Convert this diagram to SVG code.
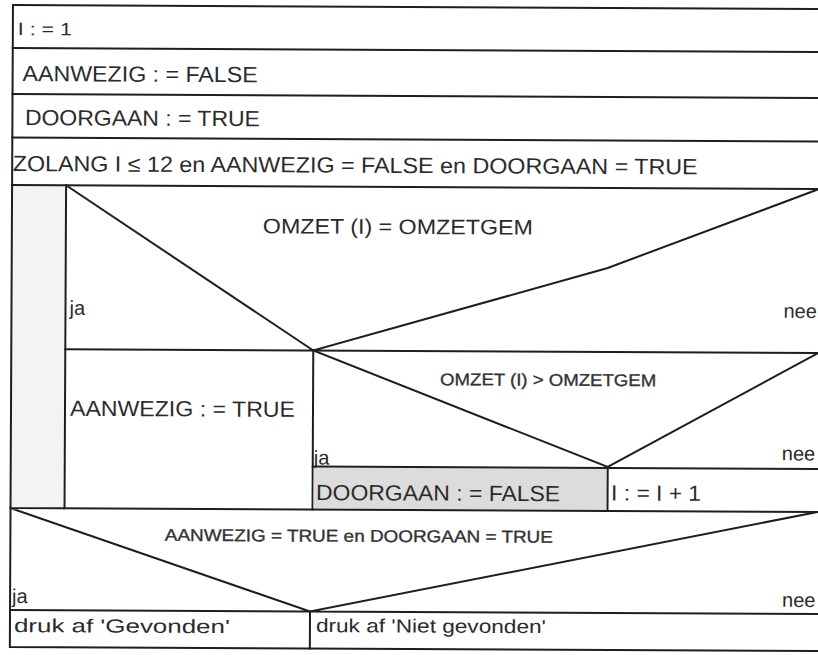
<svg xmlns="http://www.w3.org/2000/svg" width="818" height="655" viewBox="0 0 818 655">
  <style>
    .ln { stroke: #1e1e1e; stroke-width: 2; fill: none; stroke-linecap: square; }
    .t { font-family: "Liberation Sans", Arial, sans-serif; fill: #2b2b2b; }
    .big { font-size: 22px; }
    .mid { font-size: 20px; }
    .small { font-size: 17px; fill: #333333; stroke: #333333; stroke-width: 0.35; }
    .shade { fill: #dcdcdc; }
    .haze { fill: #f3f3f3; }
  </style>
  <rect width="818" height="655" fill="#ffffff"/>
  <!-- whole chart is drawn slightly tilted, like a page on a scanner -->
  <g transform="rotate(0.28)">
    <!-- faint grey strip on the left of the loop body -->
    <rect class="haze" x="14" y="186" width="52" height="321"/>

    <g id="assign-i">
      <path class="ln" d="M13,5 H830 M13,48 H830"/>
      <text class="t" x="18" y="35" font-size="18" textLength="54" lengthAdjust="spacingAndGlyphs">I : = 1</text>
    </g>

    <g id="assign-aanwezig">
      <path class="ln" d="M13,94 H830"/>
      <text class="t big" x="23" y="81" textLength="235" lengthAdjust="spacingAndGlyphs">AANWEZIG : = FALSE</text>
    </g>

    <g id="assign-doorgaan">
      <path class="ln" d="M13,137.5 H830"/>
      <text class="t big" x="25.5" y="125" textLength="235" lengthAdjust="spacingAndGlyphs">DOORGAAN : = TRUE</text>
    </g>

    <g id="loop-zolang">
      <path class="ln" d="M13,185 H830 M67,185 V508"/>
      <text class="t big" x="13.5" y="171" textLength="685" lengthAdjust="spacingAndGlyphs">ZOLANG I ≤ 12 en AANWEZIG = FALSE en DOORGAAN = TRUE</text>
    </g>

    <g id="if-omzet-gelijk">
      <path class="ln" d="M67,185 L315,349 L609,265 L820,185 M67,349 H830"/>
      <text class="t" x="264" y="232" font-size="21" textLength="270" lengthAdjust="spacingAndGlyphs">OMZET (I) = OMZETGEM</text>
      <text class="t mid" x="71" y="314.5">ja</text>
      <text class="t mid" x="785" y="314">nee</text>
    </g>

    <g id="set-aanwezig-true">
      <path class="ln" d="M315,349 V508"/>
      <text class="t big" x="72" y="415.5" textLength="225" lengthAdjust="spacingAndGlyphs">AANWEZIG : = TRUE</text>
    </g>

    <g id="if-omzet-groter">
      <path class="ln" d="M315,349 L610,464 L820,349"/>
      <text class="t small" x="442" y="383" textLength="216" lengthAdjust="spacingAndGlyphs">OMZET (I) &gt; OMZETGEM</text>
      <text class="t mid" x="316" y="463">ja</text>
      <text class="t mid" x="784" y="456.5">nee</text>
    </g>

    <g id="set-doorgaan-false">
      <rect class="shade" x="316" y="466" width="293" height="41"/>
      <path class="ln" d="M315,465 H830 M610,465 V508"/>
      <text class="t big" x="318.5" y="498.5" textLength="244" lengthAdjust="spacingAndGlyphs">DOORGAAN : = FALSE</text>
    </g>

    <g id="increment-i">
      <text class="t big" x="613.5" y="497.5" textLength="90" lengthAdjust="spacingAndGlyphs">I : = I + 1</text>
    </g>

    <g id="if-gevonden">
      <path class="ln" d="M13,508 H830 M13,508 L313,610 L820,508 M13,610 H830"/>
      <text class="t small" x="167.5" y="540" font-size="16" textLength="388" lengthAdjust="spacingAndGlyphs">AANWEZIG  = TRUE en DOORGAAN = TRUE</text>
      <text class="t mid" x="15" y="603">ja</text>
      <text class="t mid" x="785" y="603">nee</text>
    </g>

    <g id="print-gevonden">
      <path class="ln" d="M313,610 V647"/>
      <text class="t" x="17" y="632" font-size="19" textLength="216" lengthAdjust="spacingAndGlyphs">druk af 'Gevonden'</text>
    </g>

    <g id="print-niet-gevonden">
      <text class="t" x="319" y="630.5" font-size="19" textLength="230" lengthAdjust="spacingAndGlyphs">druk af 'Niet gevonden'</text>
    </g>

    <!-- outer frame: left edge and bottom -->
    <g id="connectors">
      <path class="ln" d="M13,5 V647 H830"/>
    </g>
  </g>
</svg>
